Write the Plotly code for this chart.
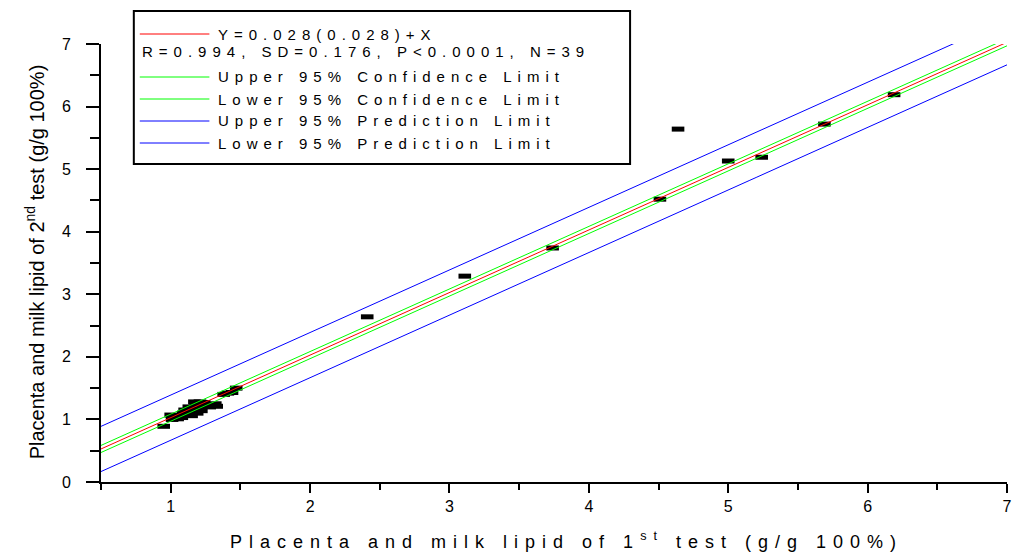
import numpy as np
import plotly.graph_objects as go

# ---- data ----
first_test = [
    0.95, 1.00, 1.01, 1.03, 1.05, 1.06, 1.08, 1.09, 1.10, 1.11,
    1.12, 1.13, 1.15, 1.16, 1.17, 1.18, 1.19, 1.20, 1.21, 1.22,
    1.23, 1.24, 1.28, 1.30, 1.32, 1.33, 1.38, 1.41, 1.44, 1.47,
    2.41, 3.11, 3.74, 4.51, 4.64, 5.00, 5.24, 5.69, 6.19]
second_test = [
    0.89, 1.07, 1.00, 1.03, 1.01, 1.06, 1.03, 1.10, 1.15, 1.08,
    1.12, 1.20, 1.06, 1.13, 1.28, 1.25, 1.10, 1.17, 1.28, 1.14,
    1.22, 1.27, 1.20, 1.23, 1.25, 1.21, 1.40, 1.42, 1.43, 1.50,
    2.64, 3.29, 3.74, 4.52, 5.64, 5.13, 5.19, 5.72, 6.19]

# fit statistics shown in the legend: Y = a(se_a) + X  (slope fixed at 1)
intercept = 0.028
intercept_se = 0.028
slope = 1.0
sd = 0.176
n_obs = 39
t_crit = 2.026

legend_labels = [
    "Y=0.028(0.028)+X",
    "R=0.994, SD=0.176, P<0.0001, N=39",
    "Upper 95% Confidence Limit",
    "Lower 95% Confidence Limit",
    "Upper 95% Prediction Limit",
    "Lower 95% Prediction Limit",
]
legend_colors = ["#ff0000", None, "#00ff00", "#00ff00", "#0000ff", "#0000ff"]

x_title = "Placenta and milk lipid of 1<sup>st</sup> test (g/g 100%)"
y_title = "Placenta and milk lipid of 2<sup>nd</sup> test (g/g 100%)"

# ---- derived fit lines ----
xs = np.linspace(0.5, 7.0, 131)
fit = intercept + slope * xs
ci_half = t_crit * intercept_se
pi_half = t_crit * np.sqrt(sd ** 2 + intercept_se ** 2)

FONT = "Liberation Sans, Arial, sans-serif"
W, H = 1024, 558
ML, MR, MT, MB = 101, 12, 44, 76
PW, PH = W - ML - MR, H - MT - MB


def pxx(p):
    return (p - ML) / PW


def pxy(p):
    return (H - MB - p) / PH


fig = go.Figure()
fig.add_trace(go.Scatter(
    x=first_test, y=second_test, mode="markers",
    marker=dict(symbol="line-ew", size=9, color="black",
                line=dict(color="black", width=5)),
    hoverinfo="x+y"))
for yy, col in [(fit + pi_half, "#0000ff"), (fit - pi_half, "#0000ff"),
                (fit + ci_half, "#00ff00"), (fit - ci_half, "#00ff00"),
                (fit, "#ff0000")]:
    fig.add_trace(go.Scatter(x=xs, y=yy, mode="lines",
                             line=dict(color=col, width=1), hoverinfo="skip"))

annotations = [
    dict(text=x_title, xref="paper", yref="paper", x=pxx(569), y=pxy(540),
         xanchor="center", yanchor="middle", showarrow=False,
         font=dict(family=FONT, size=18, color="black")),
    dict(text=y_title, xref="paper", yref="paper", x=pxx(34), y=pxy(262),
         xanchor="center", yanchor="middle", showarrow=False, textangle=-90,
         font=dict(family=FONT, size=20, color="black")),
]
shapes = [dict(type="rect", xref="paper", yref="paper",
               x0=pxx(134), x1=pxx(633), y0=pxy(11), y1=pxy(164),
               line=dict(color="black", width=2), fillcolor="white", layer="above")]

row_y = [34, 51, 77, 99, 121, 143]
for lab, col, ry in zip(legend_labels, legend_colors, row_y):
    tx = 140 if col is None else 217
    annotations.append(dict(text=lab, xref="paper", yref="paper", x=pxx(tx), y=pxy(ry),
                            xanchor="left", yanchor="middle", align="left", showarrow=False,
                            font=dict(family=FONT, size=15, color="black")))
    if col is not None:
        shapes.append(dict(type="line", xref="paper", yref="paper",
                           x0=pxx(140), x1=pxx(210), y0=pxy(ry), y1=pxy(ry),
                           line=dict(color=col, width=1), layer="above"))

axis_common = dict(showline=True, linewidth=2, linecolor="black", showgrid=False,
                   zeroline=False, ticks="outside", tickwidth=2, tickcolor="black",
                   tickfont=dict(family=FONT, size=16, color="black"))
fig.update_layout(
    width=W, height=H, margin=dict(l=ML, r=MR, t=MT, b=MB),
    paper_bgcolor="white", plot_bgcolor="white", showlegend=False,
    font=dict(family=FONT, color="black"),
    xaxis=dict(range=[0.5, 7], tick0=0, dtick=1, ticklen=9,
               minor=dict(dtick=0.5, ticks="outside", ticklen=6, tickwidth=2,
                          tickcolor="black", showgrid=False), **axis_common),
    yaxis=dict(range=[0, 7], tick0=0, dtick=1, ticklen=13, ticklabelstandoff=12,
               minor=dict(dtick=0.5, ticks="outside", ticklen=9, tickwidth=2,
                          tickcolor="black", showgrid=False), **axis_common),
    annotations=annotations, shapes=shapes,
)

post = """
(function(){
var gd = document.getElementById('{plot_id}');
function spaceText(){
  gd.querySelectorAll('g.annotation').forEach(function(g){
    var idx = parseInt(g.getAttribute('data-index'));
    var t = g.querySelector('text.annotation-text');
    if (!t) return;
    if (idx === 0) t.style.letterSpacing = '7px';
    else if (idx >= 2) t.style.letterSpacing = '6px';
  });
}
spaceText();
if (gd.on) gd.on('plotly_afterplot', spaceText);
setTimeout(spaceText, 50);
})();
"""
fig.write_html("out.html", post_script=post)
